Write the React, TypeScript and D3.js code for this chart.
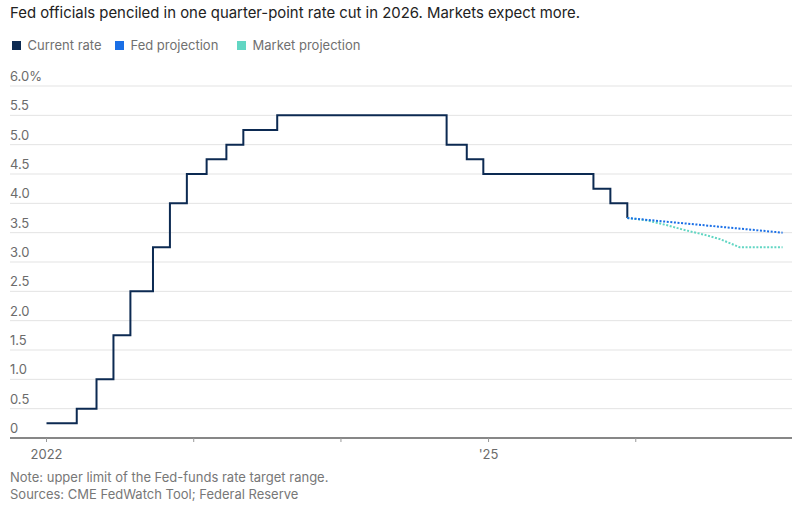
import React from "react";
import * as d3 from "d3";

const title = "Fed officials penciled in one quarter-point rate cut in 2026. Markets expect more.";
const legendItems = ["Current rate", "Fed projection", "Market projection"];
const legendColors = ["#0c2a52", "#1a6fe6", "#62d6c3"];

const rateDates = [
  "2022-01-01", "2022-03-17", "2022-05-05", "2022-06-16", "2022-07-28", "2022-09-22",
  "2022-11-03", "2022-12-15", "2023-02-02", "2023-03-23", "2023-05-04", "2023-07-27",
  "2024-09-19", "2024-11-08", "2024-12-19", "2025-09-18", "2025-10-30", "2025-12-11",
];
const rateValues = [
  0.25, 0.5, 1.0, 1.75, 2.5, 3.25, 4.0, 4.5, 4.75, 5.0, 5.25, 5.5, 5.0, 4.75, 4.5, 4.25, 4.0, 3.75,
];

const fedDates = ["2025-12-11", "2026-12-31"];
const fedValues = [3.75, 3.5];

const marketDates = [
  "2025-12-11", "2026-01-28", "2026-03-18", "2026-04-29", "2026-06-17",
  "2026-07-29", "2026-09-16", "2026-10-28", "2026-12-09", "2026-12-31",
];
const marketValues = [3.75, 3.71, 3.63, 3.55, 3.47, 3.39, 3.25, 3.25, 3.25, 3.25];

const yTicks = [0, 0.5, 1, 1.5, 2, 2.5, 3, 3.5, 4, 4.5, 5, 5.5, 6];
const xTickYears = [2022, 2023, 2024, 2025, 2026];
const xTickLabels: Record<number, string> = { 2022: "2022", 2025: "'25" };

const noteLines = [
  "Note: upper limit of the Fed-funds rate target range.",
  "Sources: CME FedWatch Tool; Federal Reserve",
];

type Pt = { d: Date; v: number };
const toPts = (ds: string[], vs: number[]): Pt[] => ds.map((s, i) => ({ d: new Date(s + "T00:00:00"), v: vs[i] }));

export default function App() {
  const W = 792, H = 508;
  const font = "Inter, 'Noto Sans', sans-serif";
  const x = d3.scaleTime()
    .domain([new Date("2022-01-01T00:00:00"), new Date("2027-01-01T00:00:00")])
    .range([46.5, 783]);
  const y = d3.scaleLinear().domain([0, 6]).range([438, 86]);

  const stepLine = d3.line<Pt>().x(p => x(p.d)).y(p => y(p.v)).curve(d3.curveStepAfter);
  const lin = d3.line<Pt>().x(p => x(p.d)).y(p => y(p.v));

  const rate = toPts(rateDates, rateValues);
  const fed = toPts(fedDates, fedValues);
  const market = toPts(marketDates, marketValues);

  const legendX = [12, 115, 237];

  return (
    <svg width={W} height={H} style={{ position: "absolute", left: 0, top: 0, background: "#fff" }} fontFamily={font}>
      <text x={10} y={18} fontSize={14.9} fill="#222">{title}</text>
      {legendItems.map((t, i) => (
        <g key={t}>
          <rect x={legendX[i]} y={41} width={9} height={9} fill={legendColors[i]} />
          <text x={legendX[i] + 15.5} y={50} fontSize={13} fill="#707070">{t}</text>
        </g>
      ))}
      {yTicks.map(t => (
        <g key={t}>
          {t > 0 && <line x1={10} x2={W} y1={y(t)} y2={y(t)} stroke="#e3e3e3" strokeWidth={1} />}
          <text x={10} y={y(t) - 5} fontSize={13} fill="#6b6b6b">{t === 0 ? "0" : t === 6 ? "6.0%" : t.toFixed(1)}</text>
        </g>
      ))}
      <path d={stepLine(rate) || ""} fill="none" stroke={legendColors[0]} strokeWidth={2} />
      <path d={lin(market) || ""} fill="none" stroke={legendColors[2]} strokeWidth={2} strokeDasharray="2 1.6" />
      <path d={lin(fed) || ""} fill="none" stroke={legendColors[1]} strokeWidth={2} strokeDasharray="2 1.6" />
      <line x1={10} x2={W} y1={438} y2={438} stroke="#111" strokeWidth={1.2} />
      {xTickYears.map(yr => {
        const xx = x(new Date(`${yr}-01-01T00:00:00`));
        return (
          <g key={yr}>
            <line x1={xx} x2={xx} y1={438} y2={442} stroke="#999" strokeWidth={1} />
            {xTickLabels[yr] && (
              <text x={xx} y={459} fontSize={13} fill="#6b6b6b" textAnchor="middle">{xTickLabels[yr]}</text>
            )}
          </g>
        );
      })}
      {noteLines.map((n, i) => (
        <text key={i} x={10} y={482 + i * 16.5} fontSize={13} fill="#777">{n}</text>
      ))}
    </svg>
  );
}
